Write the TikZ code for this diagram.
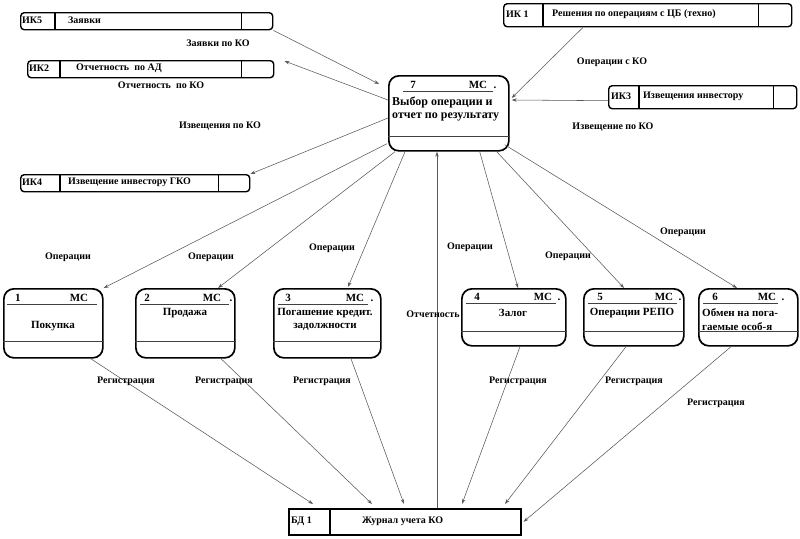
\documentclass[tikz,border=0pt]{standalone}
\usepackage{fontspec}
\setmainfont{Liberation Serif}
\usetikzlibrary{arrows.meta,calc}
\tikzset{
  store/.style={draw, line width=1.4pt, rounded corners=3.5pt, inner sep=0pt, anchor=north west},
  dbstore/.style={draw, line width=1.6pt, inner sep=0pt, anchor=north west},
  proc/.style={draw, line width=1.7pt, rounded corners=10pt, inner sep=0pt, anchor=north west},
  divl/.style={line width=1.1pt},
  thinl/.style={draw=black!75, line width=0.6pt},
  conn/.style={draw=black!65, line width=0.55pt, -{Stealth[length=5pt,width=3.4pt]}},
  lbl/.style={font=\fontsize{10}{11}\selectfont\bfseries, inner sep=0pt},
  ptxt/.style={font=\fontsize{11}{12}\selectfont\bfseries, inner sep=0pt},
  btxt/.style={font=\fontsize{12}{13}\selectfont\bfseries, inner sep=0pt},
}
\begin{document}
\begin{tikzpicture}[x=1pt,y=-1pt]
\useasboundingbox (0,0) rectangle (800,538);

% ---------- stores ----------
\node[store, minimum width=252pt, minimum height=17pt] (ik5) at (20,12) {};
\draw[divl] ($(ik5.north west)+(35,0)$) -- ($(ik5.south west)+(35,0)$);
\draw[divl] ($(ik5.north east)+(-32,0)$) -- ($(ik5.south east)+(-32,0)$);
\node[lbl, anchor=west] (ik5a) at (22,20.5) {ИК5};
\node[lbl, anchor=west] (ik5b) at (68,20.5) {Заявки};

\node[store, minimum width=246pt, minimum height=17pt] (ik2) at (27,60) {};
\draw[divl] ($(ik2.north west)+(33,0)$) -- ($(ik2.south west)+(33,0)$);
\draw[divl] ($(ik2.north east)+(-33,0)$) -- ($(ik2.south east)+(-33,0)$);
\node[lbl, anchor=west] (ik2a) at (29,68.5) {ИК2};
\node[lbl, anchor=west] (ik2b) at (76,68.5) {Отчетность\ \ по АД};

\node[store, minimum width=288pt, minimum height=23pt] (ik1) at (503,3) {};
\draw[divl] ($(ik1.north west)+(40,0)$) -- ($(ik1.south west)+(40,0)$);
\draw[divl] ($(ik1.north east)+(-34,0)$) -- ($(ik1.south east)+(-34,0)$);
\node[lbl, anchor=west] (ik1a) at (506,14.5) {ИК 1};
\node[lbl, anchor=west] (ik1b) at (552,14.5) {Решения по операциям с ЦБ (техно)};

\node[store, minimum width=188pt, minimum height=23pt] (ik3) at (608,85) {};
\draw[divl] ($(ik3.north west)+(31,0)$) -- ($(ik3.south west)+(31,0)$);
\draw[divl] ($(ik3.north east)+(-24,0)$) -- ($(ik3.south east)+(-24,0)$);
\node[lbl, anchor=west] (ik3a) at (611,96.5) {ИК3};
\node[lbl, anchor=west] (ik3b) at (643,96.5) {Извещения инвестору};

\node[store, minimum width=229pt, minimum height=17pt] (ik4) at (20,174) {};
\draw[divl] ($(ik4.north west)+(40,0)$) -- ($(ik4.south west)+(40,0)$);
\draw[divl] ($(ik4.north east)+(-32,0)$) -- ($(ik4.south east)+(-32,0)$);
\node[lbl, anchor=west] (ik4a) at (22,182.5) {ИК4};
\node[lbl, anchor=west] (ik4b) at (68,182.5) {Извещение инвестору ГКО};

\node[dbstore, minimum width=232pt, minimum height=26pt] (bd1) at (288,508) {};
\draw[divl] ($(bd1.north west)+(42,0)$) -- ($(bd1.south west)+(42,0)$);
\node[lbl, anchor=west] (bd1a) at (291,521) {БД 1};
\node[lbl, anchor=west] (bd1b) at (362,521) {Журнал учета КО};

% ---------- central process 7 ----------
\node[proc, minimum width=120pt, minimum height=75pt] (n7) at (388,75) {};
\draw[thinl] (403,91) -- (493,91);
\draw[thinl] ($(n7.south west)+(0,-15)$) -- ($(n7.south east)+(0,-15)$);
\node[ptxt] (n7num) at (413,85) {7};
\node[ptxt] (n7ms) at (478,85) {МС};
\node[ptxt] (n7dot) at (495,88) {.};
\node[btxt, anchor=west] (n7t1) at (392,102) {Выбор операции и};
\node[btxt, anchor=west] (n7t2) at (392,117) {отчет по результату};

% ---------- processes 1..6 ----------
\node[proc, minimum width=99pt, minimum height=69pt] (n1) at (3,288) {};
\draw[thinl] (7,304) -- (97,304);
\draw[thinl] ($(n1.south west)+(0,-17)$) -- ($(n1.south east)+(0,-17)$);
\node[ptxt] (n1num) at (18,298) {1};
\node[ptxt] (n1ms) at (79,298) {МС};
\node[ptxt] (n1t) at (53,326) {Покупка};

\node[proc, minimum width=99pt, minimum height=69pt] (n2) at (135,288) {};
\draw[thinl] (140,304) -- (229,304);
\draw[thinl] ($(n2.south west)+(0,-17)$) -- ($(n2.south east)+(0,-17)$);
\node[ptxt] (n2num) at (147,298) {2};
\node[ptxt] (n2ms) at (212,298) {МС};
\node[ptxt] (n2dot) at (231,301) {.};
\node[ptxt] (n2t) at (185,313) {Продажа};

\node[proc, minimum width=107pt, minimum height=69pt] (n3) at (273,288) {};
\draw[thinl] (278,304) -- (368,304);
\draw[thinl] ($(n3.south west)+(0,-17)$) -- ($(n3.south east)+(0,-17)$);
\node[ptxt] (n3num) at (288,298) {3};
\node[ptxt] (n3ms) at (355,298) {МС};
\node[ptxt] (n3dot) at (372,301) {.};
\node[ptxt] (n3t1) at (325,313) {Погашение кредит.};
\node[ptxt] (n3t2) at (325,327) {задолжности};

\node[proc, minimum width=104pt, minimum height=57pt] (n4) at (461,288) {};
\draw[thinl] (466,303) -- (556,303);
\draw[thinl] ($(n4.south west)+(0,-15)$) -- ($(n4.south east)+(0,-15)$);
\node[ptxt] (n4num) at (477,297) {4};
\node[ptxt] (n4ms) at (543,297) {МС};
\node[ptxt] (n4dot) at (559,300) {.};
\node[ptxt] (n4t) at (513,313) {Залог};

\node[proc, minimum width=100pt, minimum height=57pt] (n5) at (583,288) {};
\draw[thinl] (588,303) -- (677,303);
\draw[thinl] ($(n5.south west)+(0,-15)$) -- ($(n5.south east)+(0,-15)$);
\node[ptxt] (n5num) at (600,297) {5};
\node[ptxt] (n5ms) at (664,297) {МС};
\node[ptxt] (n5dot) at (680,300) {.};
\node[ptxt] (n5t) at (632,313) {Операции РЕПО};

\node[proc, minimum width=99pt, minimum height=57pt] (n6) at (698,288) {};
\draw[thinl] (703,303) -- (778,303);
\draw[thinl] ($(n6.south west)+(0,-15)$) -- ($(n6.south east)+(0,-15)$);
\node[ptxt] (n6num) at (715,297) {6};
\node[ptxt] (n6ms) at (767,297) {МС};
\node[ptxt] (n6dot) at (783,300) {.};
\node[ptxt, anchor=west] (n6t1) at (702,313) {Обмен на пога-};
\node[ptxt, anchor=west] (n6t2) at (702,327) {гаемые особ-я};

% ---------- connectors ----------
\draw[conn] (ik5.south east) -- ([shift={(-9,9)}]n7.north west);
\draw[conn] ([shift={(0,25)}]n7.north west) -- ([shift={(10,1)}]ik2.north east);
\draw[conn] ([xshift=80]ik1.south west) -- ([shift={(2,23)}]n7.north east);
\draw[conn] ([shift={(0,3.5)}]ik3.west) -- ([shift={(2,25)}]n7.north east);
\draw[conn] ([shift={(0,43)}]n7.north west) -- (ik4.north east);

\draw[conn] ([shift={(-1,-8)}]n7.south west) -- (n1.north east);
\draw[conn] ([xshift=7]n7.south west) -- ([xshift=83]n2.north west);
\draw[conn] ([xshift=17]n7.south west) -- ([shift={(75,-1)}]n3.north west);
\draw[conn] ([xshift=-30]n7.south east) -- ([xshift=57]n4.north west);
\draw[conn] ([xshift=-13]n7.south east) -- ([xshift=41]n5.north west);
\draw[conn] ([shift={(-5,-7)}]n7.south east) -- ([xshift=39]n6.north west);

\draw[conn] ([xshift=149]bd1.north west) -- ([xshift=49]n7.south west);

\draw[conn] ([xshift=-13]n1.south east) -- ([shift={(25,-4)}]bd1.north west);
\draw[conn] ([xshift=86]n2.south west) -- ([shift={(84,-4)}]bd1.north west);
\draw[conn] ([xshift=78]n3.south west) -- ([shift={(116,-4)}]bd1.north west);
\draw[conn] ([xshift=59]n4.south west) -- ([shift={(174,-4)}]bd1.north west);
\draw[conn] ([xshift=43]n5.south west) -- ([shift={(217,-4)}]bd1.north west);
\draw[conn] ([xshift=33]n6.south west) -- ([xshift=2]bd1.east);

% ---------- connector labels ----------
\node[lbl] (l1) at (218,43) {Заявки по КО};
\node[lbl] (l2) at (161,85) {Отчетность\ \ по КО};
\node[lbl] (l3) at (220,126) {Извещения по КО};
\node[lbl] (l4) at (612,62) {Операции с КО};
\node[lbl] (l5) at (613,127) {Извещение по КО};
\node[lbl] (o1) at (68,257) {Операции};
\node[lbl] (o2) at (211,257) {Операции};
\node[lbl] (o3) at (332,248) {Операции};
\node[lbl] (o4) at (470,247) {Операции};
\node[lbl] (o5) at (568,256) {Операции};
\node[lbl] (o6) at (683,232) {Операции};
\node[lbl] (otch) at (433,314) {Отчетность};
\node[lbl] (r1) at (126,381) {Регистрация};
\node[lbl] (r2) at (224,381) {Регистрация};
\node[lbl] (r3) at (322,381) {Регистрация};
\node[lbl] (r4) at (518,381) {Регистрация};
\node[lbl] (r5) at (634,381) {Регистрация};
\node[lbl] (r6) at (716,403) {Регистрация};
\end{tikzpicture}
\end{document}
